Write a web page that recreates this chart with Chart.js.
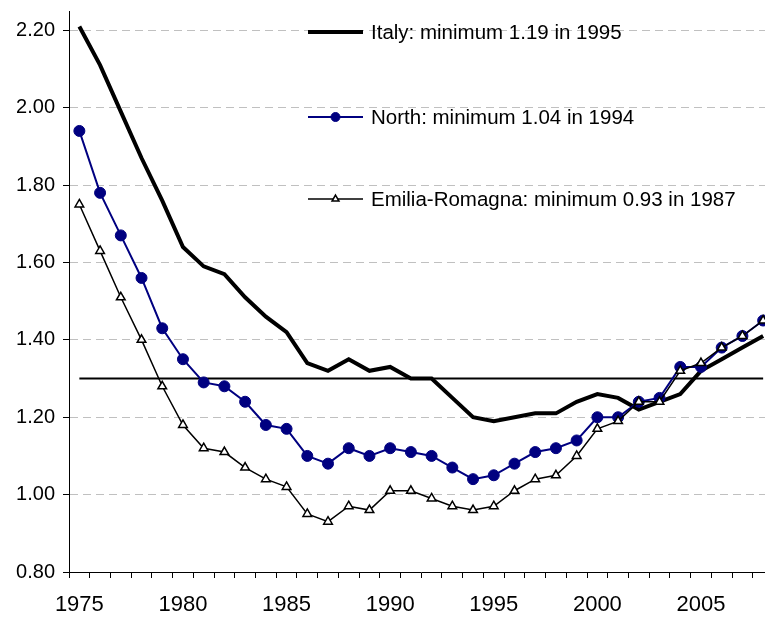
<!DOCTYPE html>
<html>
<head>
<meta charset="utf-8">
<script src="https://cdn.jsdelivr.net/npm/chart.js@4.4.1/dist/chart.umd.min.js"></script>
<style>
  html, body { margin: 0; padding: 0; background: #fff; overflow: hidden; }
  canvas { display: block; }
</style>
</head>
<body>
<canvas id="myChart" width="780" height="617"></canvas>
<script>
// categories
var years = [1975, 1976, 1977, 1978, 1979, 1980, 1981, 1982, 1983, 1984,
             1985, 1986, 1987, 1988, 1989, 1990, 1991, 1992, 1993, 1994,
             1995, 1996, 1997, 1998, 1999, 2000, 2001, 2002, 2003, 2004,
             2005, 2006, 2007, 2008];

// total fertility rate
var italy = [2.21, 2.11, 1.99, 1.87, 1.76, 1.64, 1.59, 1.57, 1.51, 1.46,
             1.42, 1.34, 1.32, 1.35, 1.32, 1.33, 1.30, 1.30, 1.25, 1.20,
             1.19, 1.20, 1.21, 1.21, 1.24, 1.26, 1.25, 1.22, 1.24, 1.26,
             1.32, 1.35, 1.38, 1.41];
var north = [1.94, 1.78, 1.67, 1.56, 1.43, 1.35, 1.29, 1.28, 1.24, 1.18,
             1.17, 1.10, 1.08, 1.12, 1.10, 1.12, 1.11, 1.10, 1.07, 1.04,
             1.05, 1.08, 1.11, 1.12, 1.14, 1.20, 1.20, 1.24, 1.25, 1.33,
             1.33, 1.38, 1.41, 1.45];
var emilia = [1.75, 1.63, 1.51, 1.40, 1.28, 1.18, 1.12, 1.11, 1.07, 1.04,
              1.02, 0.95, 0.93, 0.97, 0.96, 1.01, 1.01, 0.99, 0.97, 0.96,
              0.97, 1.01, 1.04, 1.05, 1.10, 1.17, 1.19, 1.24, 1.24, 1.32,
              1.34, 1.38, 1.41, 1.45];
var refLevel = 1.30;

var seriesLabels = ['Italy: minimum 1.19 in 1995',
                    'North: minimum 1.04 in 1994',
                    'Emilia-Romagna: minimum 0.93 in 1987'];
var yTicks = [0.8, 1.0, 1.2, 1.4, 1.6, 1.8, 2.0, 2.2];

Chart.defaults.font.family = "'Liberation Sans', Arial, sans-serif";
Chart.defaults.color = '#000';

// legend drawn inside the plot, top right
var insideLegend = {
  id: 'insideLegend',
  afterDraw: function(chart) {
    var ctx = chart.ctx;
    var rows = [32, 117, 199];
    var x0 = 308, x1 = 363, tx = 371;
    ctx.save();
    for (var i = 0; i < 3; i++) {
      var ds = chart.data.datasets[i];
      var y = rows[i];
      ctx.beginPath();
      ctx.lineWidth = ds.borderWidth;
      ctx.strokeStyle = ds.borderColor;
      ctx.moveTo(x0, y);
      ctx.lineTo(x1, y);
      ctx.stroke();
      if (ds.pointRadius > 0) {
        ctx.fillStyle = ds.pointBackgroundColor;
        ctx.strokeStyle = ds.pointBorderColor;
        ctx.lineWidth = ds.pointBorderWidth;
        Chart.helpers.drawPoint(ctx, {
          pointStyle: ds.pointStyle || 'circle',
          radius: i == 2 ? 4 : 4.5,
          rotation: 0,
          borderWidth: ds.pointBorderWidth
        }, (x0 + x1) / 2, y);
      }
      ctx.fillStyle = '#000';
      ctx.font = "20.5px 'Liberation Sans', Arial, sans-serif";
      ctx.textBaseline = 'middle';
      ctx.textAlign = 'left';
      ctx.fillText(ds.label, tx, y + 1);
    }
    ctx.restore();
  }
};

const chartEl = document.getElementById('myChart');

new Chart(chartEl, {
  type: 'line',
  data: {
    labels: years,
    datasets: [{
      label: seriesLabels[0],
      data: italy,
      borderColor: '#000',
      borderWidth: 4,
      pointRadius: 0,
      order: 3
    }, {
      label: seriesLabels[1],
      data: north,
      borderColor: '#000080',
      borderWidth: 2,
      pointRadius: 5.5,
      pointBackgroundColor: '#000080',
      pointBorderColor: '#000080',
      pointBorderWidth: 1,
      order: 2
    }, {
      label: seriesLabels[2],
      data: emilia,
      borderColor: '#000',
      borderWidth: 1.5,
      pointStyle: 'triangle',
      pointRadius: 5,
      pointBackgroundColor: '#fff',
      pointBorderColor: '#000',
      pointBorderWidth: 1.5,
      order: 1
    }, {
      label: 'ref',
      data: years.map(function() { return refLevel; }),
      borderColor: '#000',
      borderWidth: 2,
      pointRadius: 0,
      order: 4
    }]
  },
  options: {
    responsive: false,
    animation: false,
    layout: { padding: { top: 11, right: 0, left: 0, bottom: 0 } },
    plugins: {
      legend: { display: false },
      tooltip: { enabled: false }
    },
    elements: { line: { tension: 0 } },
    scales: {
      x: {
        offset: true,
        grid: { offset: true, drawOnChartArea: false, color: '#000', tickLength: 6 },
        border: { color: '#000', width: 1 },
        ticks: {
          autoSkip: false,
          maxRotation: 0,
          color: '#000',
          font: { size: 22 },
          padding: 14,
          callback: function(v, i) {
            return years[i] % 5 === 0 ? String(years[i]) : '';
          }
        },
        afterFit: function(s) {
          s.height = 45;
          s.paddingLeft = 0;
          s.paddingRight = 0;
        }
      },
      y: {
        min: 0.8,
        max: 2.25,
        afterBuildTicks: function(s) {
          s.ticks = yTicks.map(function(v) { return { value: v }; });
        },
        ticks: {
          color: '#000',
          font: { size: 20 },
          padding: 8,
          callback: function(v) { return Number(v).toFixed(2); }
        },
        grid: {
          color: function(c) {
            return (c.tick && c.tick.value < 0.81) ? 'rgba(0,0,0,0)' : '#c0c0c0';
          },
          tickColor: '#000',
          tickLength: 6,
          lineWidth: 1
        },
        border: { color: '#000', width: 1, dash: [8, 5] },
        afterFit: function(s) {
          s.width = 69;
          s.paddingTop = 0;
          s.paddingBottom = 0;
        }
      }
    }
  },
  plugins: [insideLegend]
});
</script>
</body>
</html>
